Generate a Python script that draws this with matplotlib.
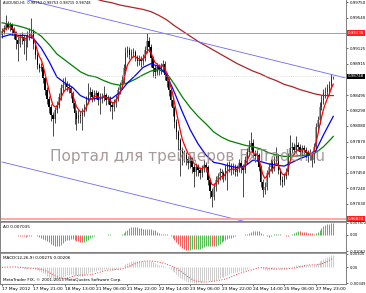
import numpy as np
import pandas as pd
import matplotlib
matplotlib.use("Agg")
import matplotlib.pyplot as plt

# AUDUSD H1 closes, highs, lows
closes = [
    0.9935, 0.9940, 0.9946, 0.9942, 0.9944, 0.9937, 0.9933, 0.9924, 0.9919, 0.9926,
    0.9928, 0.9922, 0.9926, 0.9931, 0.9933, 0.9935, 0.9919, 0.9904, 0.9890, 0.9886,
    0.9888, 0.9872, 0.9856, 0.9845, 0.9834, 0.9823, 0.9818, 0.9830, 0.9836, 0.9847,
    0.9859, 0.9863, 0.9865, 0.9861, 0.9859, 0.9852, 0.9839, 0.9825, 0.9818, 0.9823,
    0.9821, 0.9827, 0.9832, 0.9843, 0.9850, 0.9854, 0.9847, 0.9850, 0.9852, 0.9843,
    0.9845, 0.9847, 0.9850, 0.9843, 0.9845, 0.9836, 0.9834, 0.9839, 0.9845, 0.9856,
    0.9863, 0.9870, 0.9886, 0.9906, 0.9910, 0.9904, 0.9906, 0.9908, 0.9901, 0.9895,
    0.9897, 0.9895, 0.9899, 0.9910, 0.9922, 0.9915, 0.9899, 0.9886, 0.9881, 0.9888,
    0.9883, 0.9888, 0.9892, 0.9877, 0.9868, 0.9856, 0.9843, 0.9832, 0.9814, 0.9800,
    0.9789, 0.9776, 0.9767, 0.9769, 0.9764, 0.9758, 0.9762, 0.9753, 0.9746, 0.9753,
    0.9749, 0.9744, 0.9751, 0.9755, 0.9753, 0.9735, 0.9720, 0.9713, 0.9726, 0.9735,
    0.9740, 0.9746, 0.9744, 0.9740, 0.9751, 0.9755, 0.9753, 0.9749, 0.9753, 0.9746,
    0.9751, 0.9758, 0.9753, 0.9749, 0.9762, 0.9773, 0.9780, 0.9785, 0.9771, 0.9767,
    0.9769, 0.9753, 0.9733, 0.9722, 0.9726, 0.9744, 0.9753, 0.9758, 0.9751, 0.9762,
    0.9767, 0.9749, 0.9735, 0.9733, 0.9740, 0.9746, 0.9767, 0.9778, 0.9780, 0.9776,
    0.9782, 0.9780, 0.9773, 0.9778, 0.9776, 0.9771, 0.9767, 0.9771, 0.9762, 0.9780,
    0.9807, 0.9816, 0.9834, 0.9843, 0.9852, 0.9854, 0.9859, 0.9863, 0.98752, 0.98748,
]
highs = [
    0.9940, 0.9944, 0.9958, 0.9950, 0.9948, 0.9947, 0.9941, 0.9936, 0.9928, 0.9932,
    0.9934, 0.9931, 0.9930, 0.9936, 0.9940, 0.9953, 0.9938, 0.9922, 0.9907, 0.9893,
    0.9893, 0.9890, 0.9875, 0.9860, 0.9848, 0.9837, 0.9827, 0.9834, 0.9842, 0.9852,
    0.9864, 0.9872, 0.9874, 0.9869, 0.9866, 0.9862, 0.9855, 0.9842, 0.9829, 0.9830,
    0.9828, 0.9832, 0.9838, 0.9848, 0.9866, 0.9860, 0.9858, 0.9856, 0.9857, 0.9855,
    0.9852, 0.9853, 0.9862, 0.9853, 0.9850, 0.9848, 0.9840, 0.9844, 0.9850, 0.9860,
    0.9867, 0.9876, 0.9892, 0.9915, 0.9916, 0.9914, 0.9912, 0.9913, 0.9911, 0.9904,
    0.9903, 0.9902, 0.9905, 0.9916, 0.9933, 0.9928, 0.9918, 0.9902, 0.9890, 0.9893,
    0.9892, 0.9893, 0.9897, 0.9895, 0.9880, 0.9872, 0.9859, 0.9846, 0.9835, 0.9817,
    0.9803, 0.9792, 0.9780, 0.9775, 0.9773, 0.9768, 0.9767, 0.9766, 0.9757, 0.9758,
    0.9757, 0.9753, 0.9756, 0.9762, 0.9760, 0.9756, 0.9738, 0.9724, 0.9731, 0.9740,
    0.9745, 0.9752, 0.9750, 0.9748, 0.9756, 0.9760, 0.9761, 0.9758, 0.9758, 0.9757,
    0.9756, 0.9763, 0.9762, 0.9757, 0.9767, 0.9779, 0.9789, 0.9800, 0.9790, 0.9775,
    0.9776, 0.9772, 0.9756, 0.9736, 0.9733, 0.9749, 0.9758, 0.9764, 0.9762, 0.9768,
    0.9780, 0.9770, 0.9752, 0.9740, 0.9745, 0.9752, 0.9772, 0.9796, 0.9786, 0.9785,
    0.9794, 0.9787, 0.9784, 0.9783, 0.9782, 0.9780, 0.9775, 0.9777, 0.9774, 0.9785,
    0.9812, 0.9822, 0.9840, 0.9850, 0.9858, 0.9860, 0.9865, 0.9868, 0.9878, 0.98753,
]
lows = [
    0.9927, 0.9932, 0.9937, 0.9938, 0.9936, 0.9930, 0.9925, 0.9912, 0.9895, 0.9914,
    0.9918, 0.9905, 0.9897, 0.9915, 0.9924, 0.9927, 0.9912, 0.9898, 0.9885, 0.9881,
    0.9882, 0.9866, 0.9850, 0.9838, 0.9826, 0.9815, 0.9794, 0.9812, 0.9826, 0.9832,
    0.9843, 0.9854, 0.9858, 0.9855, 0.9852, 0.9846, 0.9832, 0.9810, 0.9803, 0.9812,
    0.9812, 0.9803, 0.9822, 0.9828, 0.9838, 0.9844, 0.9840, 0.9842, 0.9844, 0.9836,
    0.9824, 0.9839, 0.9842, 0.9836, 0.9837, 0.9828, 0.9818, 0.9828, 0.9834, 0.9841,
    0.9851, 0.9858, 0.9866, 0.9882, 0.9901, 0.9898, 0.9899, 0.9901, 0.9895, 0.9889,
    0.9890, 0.9888, 0.9890, 0.9895, 0.9906, 0.9908, 0.9888, 0.9874, 0.9872, 0.9876,
    0.9876, 0.9878, 0.9882, 0.9870, 0.9860, 0.9848, 0.9835, 0.9822, 0.9805, 0.9790,
    0.9775, 0.9740, 0.9756, 0.9760, 0.9755, 0.9750, 0.9752, 0.9745, 0.9726, 0.9740,
    0.9741, 0.9737, 0.9739, 0.9746, 0.9746, 0.9728, 0.9711, 0.9699, 0.9708, 0.9721,
    0.9730, 0.9735, 0.9737, 0.9733, 0.9735, 0.9722, 0.9746, 0.9742, 0.9743, 0.9740,
    0.9741, 0.9746, 0.9745, 0.9713, 0.9745, 0.9757, 0.9768, 0.9775, 0.9765, 0.9760,
    0.9761, 0.9747, 0.9726, 0.9713, 0.9716, 0.9722, 0.9739, 0.9748, 0.9745, 0.9747,
    0.9757, 0.9743, 0.9729, 0.9726, 0.9728, 0.9736, 0.9742, 0.9762, 0.9772, 0.9770,
    0.9771, 0.9774, 0.9767, 0.9768, 0.9770, 0.9765, 0.9760, 0.9762, 0.9753, 0.9758,
    0.9776, 0.9800, 0.9811, 0.9829, 0.9838, 0.9846, 0.9849, 0.9853, 0.9858, 0.98715,
]
first_open = 0.9931

# moving averages sampled every 4 bars
ma_idx = list(range(0, 169, 4)) + [169]
ma_blue = [
    0.9928, 0.9931, 0.9930, 0.9930, 0.9926, 0.9913, 0.9895, 0.9874, 0.9866, 0.9860,
    0.9849, 0.9844, 0.9845, 0.9847, 0.9845, 0.9853, 0.9866, 0.9876, 0.9887, 0.9892,
    0.9888, 0.9877, 0.9853, 0.9827, 0.9803, 0.9784, 0.9769, 0.9759, 0.9757, 0.9754,
    0.9752, 0.9754, 0.9762, 0.9760, 0.9757, 0.9755, 0.9754, 0.9759, 0.9764, 0.9768,
    0.9774, 0.9796, 0.9816, 0.9821,
]
ma_green = [
    0.9947, 0.9945, 0.9943, 0.9940, 0.9936, 0.9929, 0.9918, 0.9905, 0.9897, 0.9889,
    0.9881, 0.9876, 0.9874, 0.9869, 0.9865, 0.9863, 0.9866, 0.9871, 0.9877, 0.9882,
    0.9884, 0.9879, 0.9864, 0.9847, 0.9833, 0.9821, 0.9811, 0.9800, 0.9793, 0.9788,
    0.9785, 0.9782, 0.9780, 0.9777, 0.9772, 0.9769, 0.9767, 0.9767, 0.9768, 0.9769,
    0.9772, 0.9780, 0.9791, 0.9794,
]
ma_slow = [
    1.0010, 1.0007, 1.0004, 1.0001, 0.9998, 0.9995, 0.9992, 0.9989, 0.9986, 0.9984,
    0.9982, 0.9980, 0.9979, 0.9976, 0.9974, 0.9971, 0.9969, 0.9967, 0.9965, 0.9962,
    0.9957, 0.9951, 0.9943, 0.9936, 0.9929, 0.9922, 0.9916, 0.9910, 0.9904, 0.9898,
    0.9892, 0.9887, 0.9882, 0.9878, 0.9873, 0.9869, 0.9864, 0.9861, 0.9857, 0.9854,
    0.9851, 0.9849, 0.9849, 0.9849,
]

# channel lines (bar, price) and horizontal levels
chan_x = [0, 175]
chan_top = [0.99863, 0.98729]
chan_bot = [0.97595, 0.96461]
level_hi = 0.99330
level_lo = 0.96824
last_price = 0.98748

price_ticks = [0.99750, 0.99540, 0.99125, 0.98915, 0.98495, 0.98290,
               0.98080, 0.97870, 0.97660, 0.97450, 0.97240, 0.97030]
time_pos = [0, 16, 32, 48, 64, 80, 96, 112, 128, 144, 160]
time_labels = ["17 May 2012", "17 May 21:00", "18 May 13:00", "21 May 06:00",
               "21 May 22:00", "22 May 14:00", "23 May 06:00", "23 May 22:00",
               "24 May 14:00", "25 May 06:00", "27 May 23:00"]

W, H = 366, 293
fig = plt.figure(figsize=(W / 100, H / 100), dpi=100)


def panel(y0, y1):
    return fig.add_axes([0, 1 - y1 / H, 346 / W, (y1 - y0) / H])


ax = panel(0, 221)
ax_ao = panel(222, 252)
ax_md = panel(253, 284)

c = np.array(closes)
hi = np.array(highs)
lo = np.array(lows)
o = np.r_[first_open, c[:-1]]
x = np.arange(len(c))
up = c >= o

# candles
ax.vlines(x, lo, hi, color="black", lw=0.5)
body = np.maximum(np.abs(c - o), 0.00004)
ax.bar(x[up], body[up], bottom=o[up], width=0.75, color="#a0a0a0", linewidth=0)
ax.bar(x[~up], body[~up], bottom=c[~up], width=0.75, color="black", linewidth=0)

red_ma = pd.Series(c).ewm(span=5, adjust=False).mean()
ax.plot(ma_idx, ma_slow, color="#b22222", lw=0.9)
ax.plot(ma_idx, ma_green, color="#008000", lw=0.9)
ax.plot(ma_idx, ma_blue, color="#0000ff", lw=0.9)
ax.plot(x, red_ma, color="#ff0000", lw=0.9)

ax.plot(chan_x, chan_top, color="#6a6aff", lw=0.6)
ax.plot(chan_x, chan_bot, color="#6a6aff", lw=0.6)
ax.axhline(level_hi, color="#ff6060", lw=0.6)
ax.axhline(level_lo, color="#ffa0a0", lw=1.3)
ax.axhline(last_price, color="#c8c8c8", lw=0.5, ls=":")

ax.text(0.145, 0.29, "Портал для трейдеров FxTrader.ru", transform=ax.transAxes,
        fontsize=11.0, color="#9a8888", alpha=0.85, ha="left", va="center",
        clip_on=True)

# indicators
med = pd.Series((hi + lo) / 2)
ao = med.rolling(5, min_periods=1).mean() - med.rolling(34, min_periods=1).mean()
ao_col = np.where(ao.diff().fillna(0) > 0, "#52b852", "#f25c5c")
ax_ao.vlines(x, 0, ao, colors=ao_col, lw=0.7)

cs = pd.Series(c)
macd = cs.ewm(span=12, adjust=False).mean() - cs.ewm(span=26, adjust=False).mean()
signal = macd.rolling(9, min_periods=1).mean()
ax_md.vlines(x, 0, macd, colors="#c4c4c4", lw=0.6)
ax_md.plot(x, signal, color="#ff3030", lw=0.7, ls=":")

for a in (ax, ax_ao, ax_md):
    a.set_xlim(-1.02, 175.5)
    a.yaxis.tick_right()
    a.tick_params(axis="y", direction="out", length=1.5, width=0.4, pad=1.2,
                  labelsize=2.9, colors="#000000")
    a.tick_params(axis="x", length=0)
    a.set_xticks([])
    for s in a.spines.values():
        s.set_color("#808080")
        s.set_linewidth(0.7)
ax.spines["top"].set_visible(False)
for a in (ax_ao, ax_md):
    a.spines["top"].set_linewidth(1.1)

ax.set_ylim(0.96800, 0.99777)
ax.set_yticks(price_ticks)
ax.set_yticklabels(["%.5f" % v for v in price_ticks])

lbl = dict(transform=ax.get_yaxis_transform(), fontsize=2.9, color="white",
           ha="left", va="center", clip_on=False)
ax.text(1.006, level_hi, "%.5f" % level_hi, bbox=dict(fc="#ff2020", ec="none", pad=0.6), **lbl)
ax.text(1.006, level_lo, "%.5f" % level_lo, bbox=dict(fc="#ff2020", ec="none", pad=0.6), **lbl)
ax.text(1.006, last_price, "%.5f" % last_price, bbox=dict(fc="black", ec="none", pad=0.6), **lbl)

ax_ao.set_ylim(-0.0112, 0.0083)
ax_ao.set_yticks([0.007872, 0.0, -0.01062])
ax_ao.set_yticklabels(["0.007872", "0.00", "-0.01062"])
ax_md.set_ylim(-0.0037, 0.0032)
ax_md.set_yticks([0.00305, 0.0, -0.00349])
ax_md.set_yticklabels(["0.00305", "0.00", "-0.00349"])
for a in (ax_ao, ax_md):
    a.tick_params(axis="y", labelsize=2.6)

ax_md.set_xticks(time_pos)
ax_md.set_xticklabels(time_labels, ha="left")
ax_md.tick_params(axis="x", direction="out", length=1.5, width=0.4, pad=1,
                  labelsize=3.2, colors="#000000")

fig.text(3 / W, 1 - 3 / H, "AUDUSD,H1  0.98752 0.98753 0.98715 0.98748",
         fontsize=2.6, va="center", ha="left")
fig.text(3 / W, 1 - 227 / H, "AO 0.007035", fontsize=3.0, va="center", ha="left")
fig.text(3 / W, 1 - 258 / H, "MACD(12,26,9) 0.00275 0.00206", fontsize=3.0,
         va="center", ha="left")
fig.text(3 / W, 1 - 280 / H, "MetaTrader FIX, © 2001-2013 MetaQuotes Software Corp.",
         fontsize=3.0, va="center", ha="left")

fig.savefig("out.png", dpi=100)
